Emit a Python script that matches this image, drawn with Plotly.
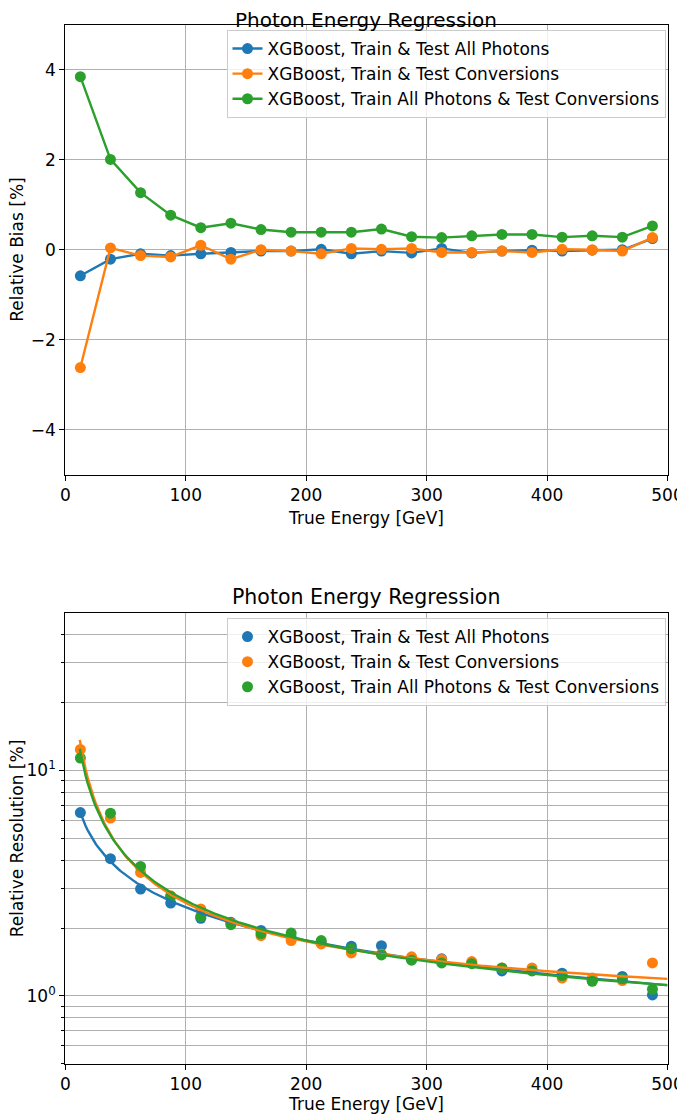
import numpy as np
import plotly.graph_objects as go

# ---------------- data ----------------
energy = [12.5, 37.5, 62.5, 87.5, 112.5, 137.5, 162.5, 187.5, 212.5, 237.5,
          262.5, 287.5, 312.5, 337.5, 362.5, 387.5, 412.5, 437.5, 462.5, 487.5]

names = ["XGBoost, Train & Test All Photons",
         "XGBoost, Train & Test Conversions",
         "XGBoost, Train All Photons & Test Conversions"]
colors = ["#1f77b4", "#ff7f0e", "#2ca02c"]

bias_all = [-0.58, -0.21, -0.09, -0.13, -0.09, -0.06, -0.03, -0.03, 0.01, -0.09,
            -0.03, -0.07, 0.03, -0.07, -0.03, -0.01, -0.03, -0.01, 0.00, 0.25]
bias_conv = [-2.62, 0.04, -0.13, -0.16, 0.10, -0.21, 0.00, -0.03, -0.09, 0.03,
             0.01, 0.03, -0.06, -0.06, -0.03, -0.06, 0.01, 0.00, -0.03, 0.27]
bias_mixed = [3.85, 2.01, 1.27, 0.77, 0.49, 0.59, 0.45, 0.39, 0.39, 0.39,
              0.46, 0.29, 0.27, 0.31, 0.34, 0.34, 0.28, 0.31, 0.28, 0.53]

res_all = [6.51, 4.06, 2.98, 2.58, 2.21, 2.12, 1.95, 1.82, 1.72, 1.66,
           1.67, 1.45, 1.46, 1.40, 1.29, 1.30, 1.26, 1.17, 1.22, 1.01]
res_conv = [12.4, 6.15, 3.53, 2.78, 2.43, 2.10, 1.85, 1.76, 1.70, 1.55,
            1.53, 1.49, 1.45, 1.42, 1.33, 1.33, 1.20, 1.20, 1.17, 1.40]
res_mixed = [11.35, 6.47, 3.75, 2.76, 2.25, 2.07, 1.89, 1.90, 1.76, 1.62,
             1.52, 1.44, 1.40, 1.39, 1.33, 1.29, 1.23, 1.16, 1.19, 1.07]

x_ticks = [0, 100, 200, 300, 400, 500]
bias_ticks = [-4, -2, 0, 2, 4]
bias_ticktext = ["\u22124", "\u22122", "0", "2", "4"]
res_ticks = [1, 10]
res_ticktext = ["10<sup>0</sup>", "10<sup>1</sup>"]
res_minor = [0.5, 0.6, 0.7, 0.8, 0.9, 2, 3, 4, 5, 6, 7, 8, 9, 20, 30, 40]

title_text = "Photon Energy Regression"
xlabel = "True Energy [GeV]"
ylabel_top = "Relative Bias [%]"
ylabel_bot = "Relative Resolution [%]"

# ---------------- geometry ----------------
W, H = 685, 1115
OX, OY = 8, 8          # page offset of the figure (body margin)
FONT = "DejaVu Sans"
FS = 17
x_left, x_right = 65.3, 667.5
top_y0, top_y1 = 25.0, 474.5       # pixel rows in the reference (from top)
bot_y0, bot_y1 = 613.0, 1063.7


def px(p):
    return (p - OX) / W


def py(p):
    return 1 - (p - OY) / H


fig = go.Figure()

bias_sets = [bias_all, bias_conv, bias_mixed]
res_sets = [res_all, res_conv, res_mixed]

for name, col, b in zip(names, colors, bias_sets):
    fig.add_trace(go.Scatter(
        x=energy, y=b, mode="lines+markers", name=name,
        line=dict(color=col, width=2.4),
        marker=dict(color=col, size=11),
        xaxis="x", yaxis="y", legend="legend"))

# resolution fit: a/sqrt(E) + b/E + c, least squares on relative residuals
E = np.array(energy)
E_fine = np.linspace(12.0, 500.0, 300)
fits = []
for r in res_sets:
    y = np.array(r)
    w = 1.0 / y
    A = np.vstack([1 / np.sqrt(E), 1 / E, np.ones_like(E)]).T
    coef, *_ = np.linalg.lstsq(A * w[:, None], y * w, rcond=None)
    Af = np.vstack([1 / np.sqrt(E_fine), 1 / E_fine, np.ones_like(E_fine)]).T
    fits.append(Af @ coef)

for name, col, r in zip(names, colors, res_sets):
    fig.add_trace(go.Scatter(
        x=energy, y=r, mode="markers", name=name,
        marker=dict(color=col, size=11),
        xaxis="x2", yaxis="y2", legend="legend2"))
for name, col, f in zip(names, colors, fits):
    fig.add_trace(go.Scatter(
        x=E_fine, y=f, mode="lines", name=name, showlegend=False,
        line=dict(color=col, width=2.4),
        xaxis="x2", yaxis="y2"))

axis_common = dict(
    showline=True, linecolor="black", linewidth=1.3, mirror=True,
    ticks="outside", ticklen=5, tickwidth=1.3, tickcolor="black",
    showgrid=True, gridcolor="#b0b0b0", gridwidth=1.3, automargin=False,
    zeroline=False, tickfont=dict(family=FONT, size=FS, color="black"),
)

dom_x = [px(x_left), px(x_right)]

fig.update_layout(
    width=W, height=H, autosize=False,
    margin=dict(l=0, r=0, t=0, b=0, pad=0, autoexpand=False),
    paper_bgcolor="white", plot_bgcolor="white",
    font=dict(family=FONT, size=FS, color="black"),
    xaxis=dict(domain=dom_x, range=[0, 500], tickvals=x_ticks,
               anchor="y", **axis_common),
    yaxis=dict(domain=[py(top_y1), py(top_y0)], range=[-5, 5],
               tickvals=bias_ticks, ticktext=bias_ticktext,
               anchor="x", **axis_common),
    xaxis2=dict(domain=dom_x, range=[0, 500], tickvals=x_ticks,
                anchor="y2", **axis_common),
    yaxis2=dict(domain=[py(bot_y1), py(bot_y0)], type="log",
                range=[np.log10(0.5), np.log10(50)],
                tickvals=res_ticks, ticktext=res_ticktext,
                minor=dict(tickvals=res_minor, ticks="outside", ticklen=3,
                           tickcolor="black", showgrid=True,
                           gridcolor="#b0b0b0", gridwidth=1.3),
                anchor="x2", **axis_common),
    legend=dict(x=px(x_right - 2), y=py(top_y0 + 5), xanchor="right",
                yanchor="top", bgcolor="rgba(255,255,255,0.8)",
                bordercolor="#cccccc", borderwidth=1,
                font=dict(family=FONT, size=FS), tracegroupgap=0),
    legend2=dict(x=px(x_right - 2), y=py(bot_y0 + 5), xanchor="right",
                 yanchor="top", bgcolor="rgba(255,255,255,0.8)",
                 bordercolor="#cccccc", borderwidth=1,
                 font=dict(family=FONT, size=FS), tracegroupgap=0),
)

xc = px((x_left + x_right) / 2)
ann = []
# (title row, title size, x-label row, plot rows, y-label text, y-label column)
# the top title and the y labels are kept just inside the visible page area
for ty, tfs, xy, (yy0, yy1), yl, ylx in [
        (20, 20, 518, (top_y0, top_y1), ylabel_top, 17),
        (597, 20.5, 1104, (bot_y0, bot_y1), ylabel_bot, 17)]:
    ann.append(dict(text=title_text, x=xc, y=py(ty), xref="paper", yref="paper",
                    showarrow=False, font=dict(family=FONT, size=tfs),
                    xanchor="center", yanchor="middle"))
    ann.append(dict(text=xlabel, x=xc, y=py(xy), xref="paper", yref="paper",
                    showarrow=False, font=dict(family=FONT, size=FS),
                    xanchor="center", yanchor="middle"))
    ann.append(dict(text=yl, x=px(ylx), y=py((yy0 + yy1) / 2), xref="paper",
                    yref="paper", showarrow=False, textangle=-90,
                    font=dict(family=FONT, size=FS),
                    xanchor="center", yanchor="middle"))
fig.update_layout(annotations=ann)

fig.write_html("out.html")
